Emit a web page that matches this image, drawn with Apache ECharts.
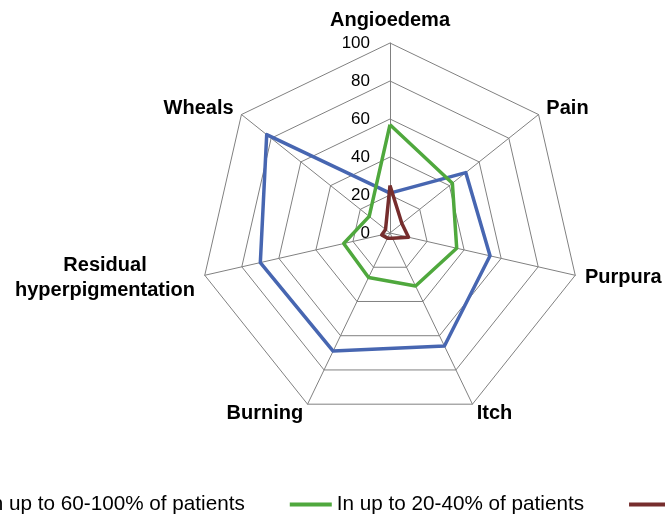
<!DOCTYPE html>
<html>
<head>
<meta charset="utf-8">
<script src="https://cdn.jsdelivr.net/npm/echarts@6/dist/echarts.min.js"></script>
<style>
html,body{margin:0;padding:0;background:#fff;}
#chart{width:665px;height:515px;}
</style>
</head>
<body>
<div id="chart"></div>
<script>
// Indicators listed counter-clockwise from the top (ECharts radar order)
const categories = ['Angioedema', 'Wheals', 'Residual hyperpigmentation', 'Burning', 'Itch', 'Purpura', 'Pain'];
const axisMax = 100;
const tickLabels = ['0', '20', '40', '60', '80', '100'];
const seriesNames = ['In up to 60-100% of patients', 'In up to 20-40% of patients', 'In up to 0-20% of patients'];
const blueValues  = [21, 83, 70, 69, 66, 54, 51];
const greenValues = [57, 14, 25, 26, 31, 36, 42];
const redValues   = [25, 3, 4.5, 3, 3, 10, 8];

const colors = ['#4766B1', '#4FA83D', '#762D2D'];
const chart = echarts.init(document.getElementById('chart'), null, {renderer: 'canvas'});

const indicators = categories.map((c, i) => {
  const ind = {name: c, max: axisMax, min: 0};
  if (i === 0) {
    ind.axisLabel = {
      show: true, fontSize: 17, color: '#000', fontFamily: 'Liberation Sans', margin: 20,
      formatter: v => tickLabels[Math.round(v / 20)] ?? ''
    };
  }
  return ind;
});

chart.setOption({
  animation: false,
  color: colors,
  legend: {
    left: -66,
    top: 489,
    width: 1100,
    itemWidth: 42,
    itemHeight: 4,
    itemGap: 45,
    icon: 'rect',
    textStyle: {fontSize: 20.7, color: '#000', fontFamily: 'Liberation Sans'},
    data: seriesNames.map((n, i) => ({name: n, itemStyle: {color: colors[i]}}))
  },
  radar: {
    center: [390, 233],
    radius: 190,
    startAngle: 90,
    splitNumber: 5,
    shape: 'polygon',
    indicator: indicators,
    nameGap: 10,
    axisName: {
      color: '#000',
      fontFamily: 'Liberation Sans',
      fontWeight: 'bold',
      fontSize: 20,
      formatter: function (name) {
        const parts = name.split(' ');
        return parts.map(p => '{c|' + p + '}').join('\n');
      },
      rich: {
        c: {align: 'center', fontSize: 20, fontWeight: 'bold', fontFamily: 'Liberation Sans', color: '#000', lineHeight: 25}
      }
    },
    axisLine: {lineStyle: {color: '#808080', width: 1}},
    splitLine: {lineStyle: {color: '#808080', width: 1}},
    splitArea: {show: false},
    axisTick: {show: false},
    axisLabel: {show: false}
  },
  series: [{
    type: 'radar',
    symbol: 'none',
    data: [
      {name: seriesNames[0], value: blueValues, lineStyle: {color: colors[0], width: 3.5}, itemStyle: {color: colors[0]}},
      {name: seriesNames[1], value: greenValues, lineStyle: {color: colors[1], width: 3.5}, itemStyle: {color: colors[1]}},
      {name: seriesNames[2], value: redValues, lineStyle: {color: colors[2], width: 3.5}, itemStyle: {color: colors[2]}}
    ]
  }]
});
</script>
</body>
</html>
